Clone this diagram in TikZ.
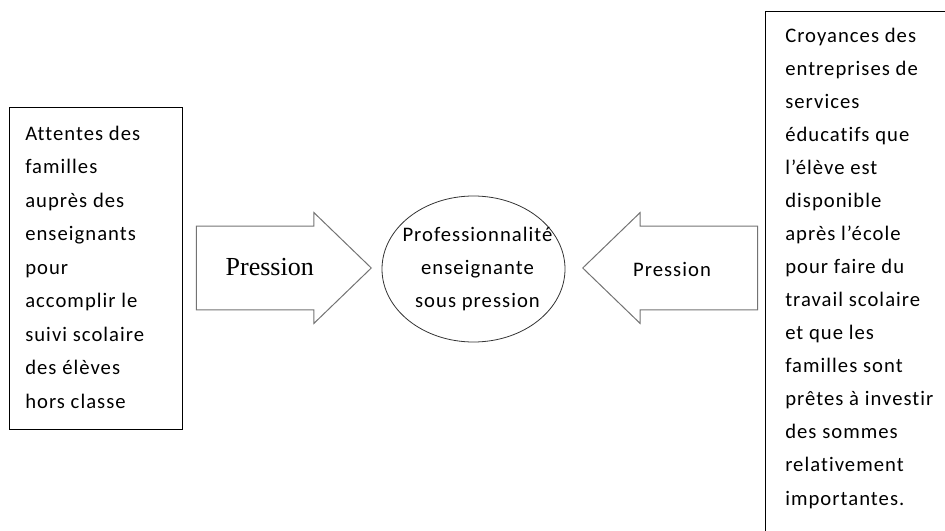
\documentclass[tikz,border=0pt]{standalone}
\usepackage{fontspec}
\setmainfont{Carlito}[LetterSpace=5, Ligatures=CommonOff]
\newfontfamily\timesfont{Liberation Serif}
\usetikzlibrary{shapes.geometric, shapes.arrows, positioning}

\tikzset{
  cadre/.style={draw=black, line width=0.8pt, anchor=north west, inner sep=0pt},
  texte/.style={align=left, inner sep=0pt, anchor=base west},
  fleche/.style={single arrow, draw=black!55, line width=0.75pt, minimum width=83.25pt,
    minimum height=131.25pt, single arrow tip angle=88, inner xsep=0pt, anchor=tip,
    text height=14.5pt, text depth=0pt, inner ysep=14.125pt},
  etiquette/.style={inner sep=0pt, anchor=base},
}

\begin{document}
\begin{tikzpicture}[x=0.75pt,y=-0.75pt]
	\useasboundingbox (0,0) rectangle (945,531);
	\clip (0,0) rectangle (945,531);
	% Left box: families
	\node[cadre, minimum width=129.75pt, minimum height=241.5pt] (attentes) at (9,107) {};
	\node[texte, font=\fontsize{15.5}{25.1}\selectfont] (attentesTxt) at (25,408) {Attentes des\\familles\\auprès des\\enseignants\\pour\\accomplir le\\suivi scolaire\\des élèves\\hors classe};
	% Right box: companies (cut by the page edge)
	\node[cadre, minimum width=150pt, minimum height=420pt] (croyances) at (765,11) {};
	\node[texte, font=\fontsize{15.5}{24.8}\selectfont] (croyancesTxt) at (785,505) {Croyances des\\entreprises de\\services\\éducatifs que\\l’élève est\\disponible\\après l’école\\pour faire du\\travail scolaire\\et que les\\familles sont\\prêtes à investir\\des sommes\\relativement\\importantes.};
	% Centre
	\node[ellipse, draw=black!80, line width=0.6pt, minimum width=137.25pt, minimum height=109.5pt,
		inner sep=0pt] (prof) at (473.5,269) {};
	\node[align=center, inner sep=0pt, font=\fontsize{15.5}{24.8}\selectfont] (profTxt) at (477.5,269) {Professionnalité\\enseignante\\sous pression};
	% Pressure arrows
	\node[fleche] (pressionG) at (372,268) {};
	\node[fleche, shape border rotate=180] (pressionD) at (582,268) {};
	\node[etiquette, font=\timesfont\fontsize{19.5}{22}\selectfont] (pressionGTxt) at (269.7,275) {Pression};
	\node[etiquette, font=\fontsize{15.5}{18}\selectfont] (pressionDTxt) at (672,276.5) {Pression};
\end{tikzpicture}
\end{document}
